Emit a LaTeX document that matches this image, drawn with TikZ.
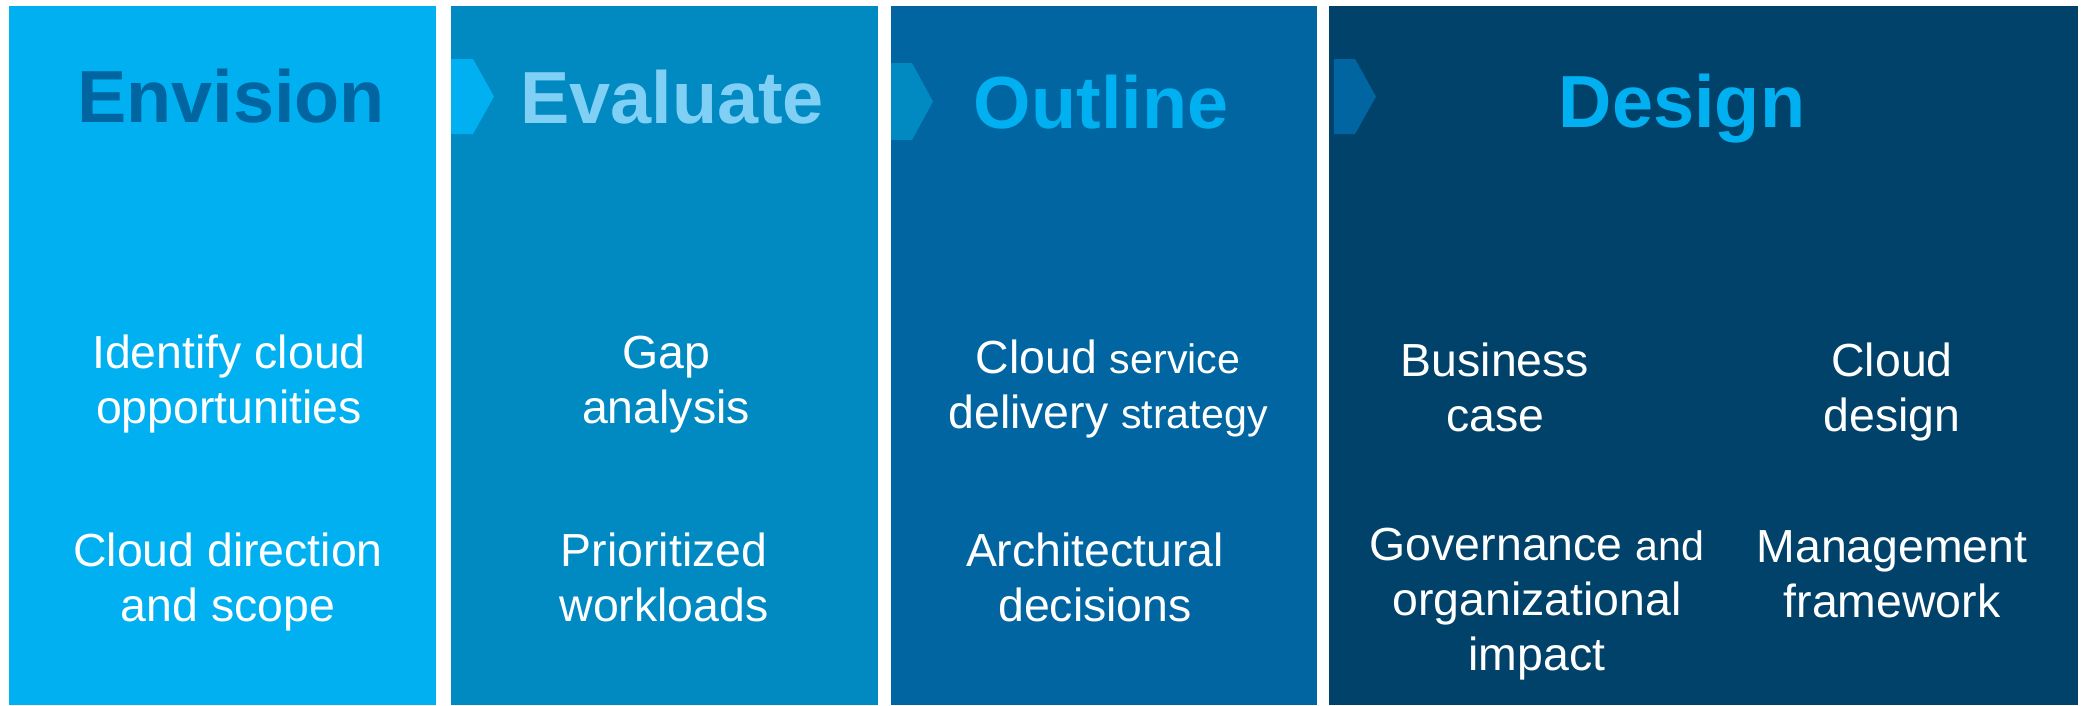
\documentclass[tikz,border=0pt]{standalone}
\usepackage{fontspec}
\setmainfont{Liberation Sans}
\usetikzlibrary{positioning}
\definecolor{cyanblk}{HTML}{00B0F0}
\definecolor{midblk}{HTML}{0189C2}
\definecolor{deepblk}{HTML}{0065A0}
\definecolor{navyblk}{HTML}{01426A}
\definecolor{paleblu}{HTML}{80CFF5}
\tikzset{
  panel/.style={rectangle,inner sep=0pt,outer sep=0pt,anchor=north west,minimum height=6.99cm},
  ttl/.style={font=\fontsize{21}{25}\selectfont\bfseries,anchor=base,inner sep=0pt},
  txt/.style={font=\fontsize{13.2}{15.6}\selectfont,text=white,align=center,anchor=base,inner sep=0pt}
}
\newcommand{\smw}[1]{{\fontsize{11.7}{15.6}\selectfont #1}}

\begin{document}
\begin{tikzpicture}[x=0.01cm,y=-0.01cm]
  \fill[white] (0,0) rectangle (2089,705);
  \useasboundingbox (0,0) rectangle (2089,705);
  % the four phases
  \node[panel,fill=cyanblk,minimum width=4.27cm] (envp) at (9,6) {};
  \node[panel,fill=midblk,minimum width=4.27cm] (evlp) at (451,6) {};
  \node[panel,fill=deepblk,minimum width=4.26cm] (outp) at (891,6) {};
  \node[panel,fill=navyblk,minimum width=7.49cm] (desp) at (1329,6) {};

  % chevrons
  \fill[cyanblk] (451,59) -- (473,59) -- (494,96.5) -- (473,134) -- (451,134) -- cycle;
  \fill[midblk] (891,63) -- (912,63) -- (933,101.5) -- (912,140) -- (891,140) -- cycle;
  \fill[deepblk] (1334,59) -- (1355,59) -- (1376,96.5) -- (1355,134) -- (1334,134) -- cycle;

  % titles
  \node[ttl,text=deepblk] (envt) at (231,122) {Envision};
  \node[ttl,text=paleblu] (evlt) at (672,123) {Evaluate};
  \node[ttl,text=cyanblk] (outt) at (1101,128) {Outline};
  \node[ttl,text=cyanblk] (dest) at (1682,127) {Design};

  % outcomes (placed by last baseline)
  \node[txt] (env1) at (229,423) {Identify cloud\\opportunities};
  \node[txt] (env2) at (228,621) {Cloud direction\\and scope};
  \node[txt] (evl1) at (666,423) {Gap\\analysis};
  \node[txt] (evl2) at (664,621) {Prioritized\\workloads};
  \node[txt] (out1) at (1108,428) {Cloud \smw{service}\\delivery \smw{strategy}};
  \node[txt] (out2) at (1095,621) {Architectural\\decisions};
  \node[txt] (des1) at (1495,431) {Business\\case};
  \node[txt] (des2) at (1892,431) {Cloud\\design};
  \node[txt] (des3) at (1537,670) {Governance \smw{and}\\organizational\\impact};
  \node[txt] (des4) at (1892,617) {Management\\framework};
\end{tikzpicture}
\end{document}
